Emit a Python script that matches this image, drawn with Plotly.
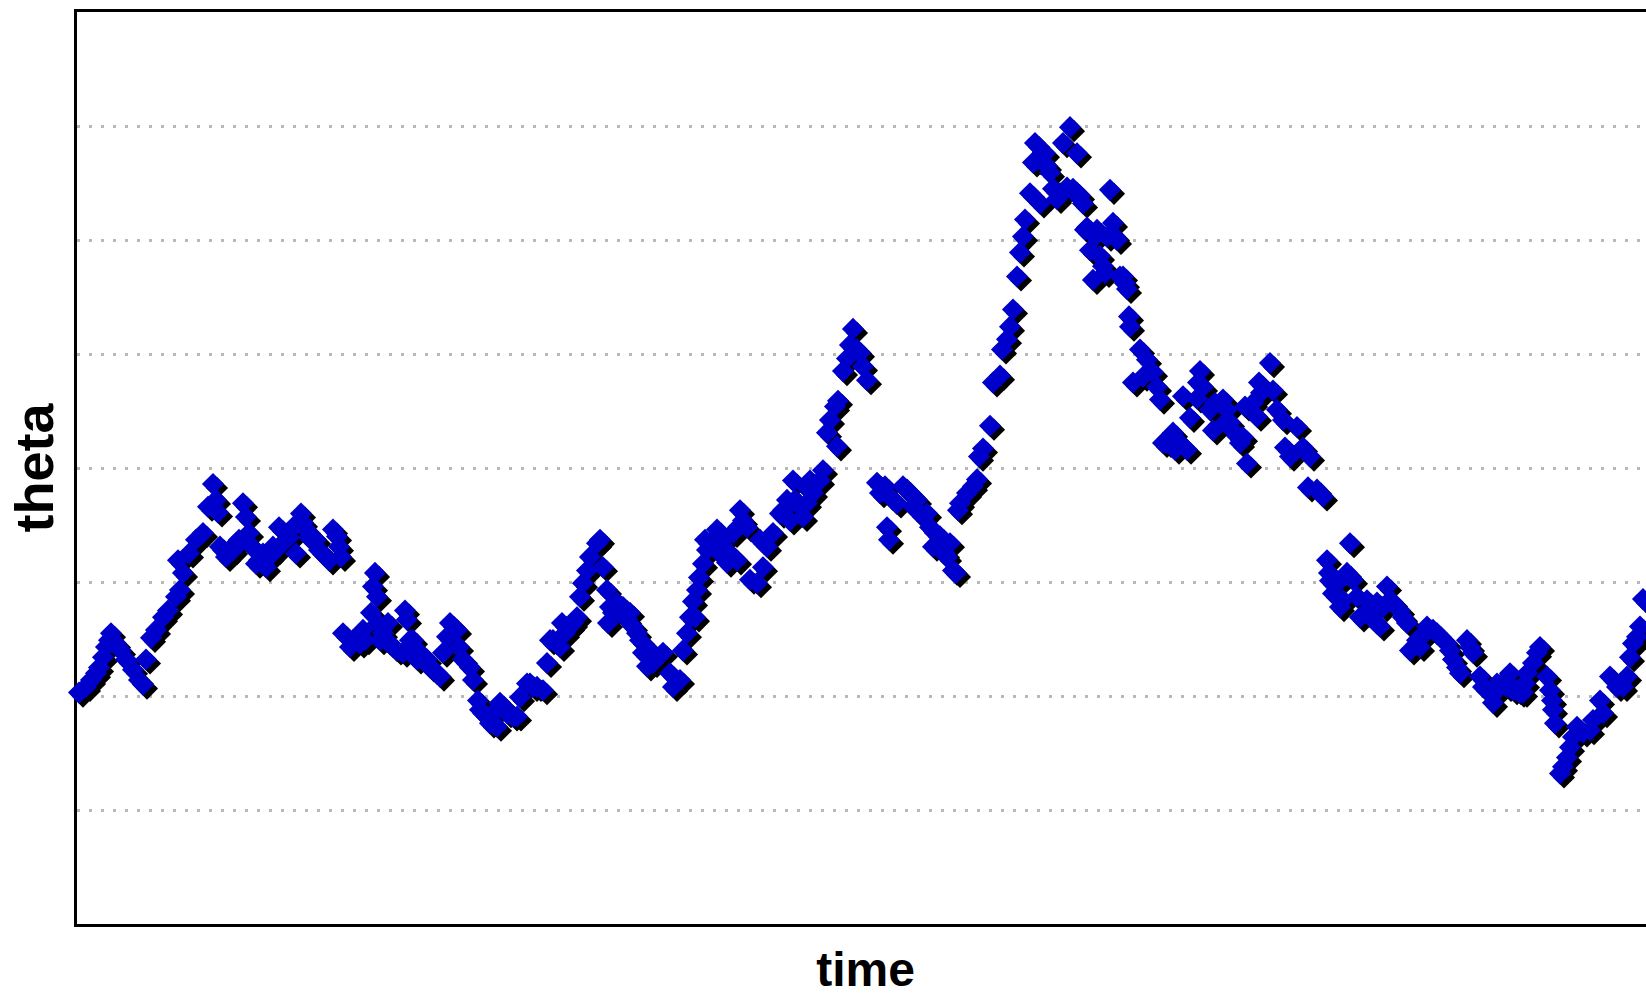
import plotly.graph_objects as go

# ---- data (time step, theta): main path ----
time = [2, 9, 14, 19, 22, 26, 29, 32, 34, 39, 44, 49, 56, 62, 66, 69, 74, 79, 86, 91,
        99, 101, 103, 106, 112, 119, 126, 131, 136, 139, 141, 146, 152, 159, 166, 169, 172, 179, 186, 196,
        202, 209, 219, 224, 229, 239, 249, 256, 260, 262, 264, 266, 276, 283, 286, 294, 296, 298, 300, 301,
        306, 311, 316, 326, 328, 330, 336, 343, 350, 356, 363, 366, 370, 373, 380, 382, 386, 393, 396, 401,
        406, 413, 420, 423, 430, 440, 443, 450, 456, 466, 470, 476, 483, 485, 493, 500, 503, 506, 510, 513,
        520, 523, 526, 530, 531, 533, 540, 546, 553, 556, 563, 566, 570, 573, 576, 586, 593, 596, 603, 606,
        610, 613, 616, 618, 620, 622, 626, 630, 636, 640, 646, 653, 660, 661, 663, 670, 673, 680, 683, 686,
        690, 696, 703, 710, 713, 716, 720, 726, 730, 736, 743, 746, 750, 753, 758, 760, 761, 766, 770, 773,
        776, 780, 783, 786, 790, 800, 803, 810, 812, 820, 826, 833, 840, 846, 853, 856, 863, 870, 873, 876,
        879, 881, 883, 890, 896, 900, 902, 906, 913, 916, 923, 925, 930, 933, 936, 940, 943, 946, 948, 953,
        956, 958, 963, 966, 970, 976, 980, 986, 993, 996, 1000, 1003, 1010, 1013, 1016, 1020, 1023, 1026, 1033, 1036,
        1040, 1046, 1050, 1052, 1053, 1056, 1063, 1066, 1070, 1076, 1080, 1083, 1086, 1096, 1103, 1110, 1113, 1120, 1123, 1126,
        1133, 1136, 1143, 1150, 1153, 1160, 1166, 1168, 1170, 1176, 1180, 1182, 1184, 1193, 1196, 1200, 1206, 1208, 1213, 1220,
        1226, 1231, 1233, 1240, 1246, 1250, 1253, 1256, 1263, 1270, 1273, 1276, 1280, 1283, 1290, 1296, 1303, 1306, 1310, 1316,
        1323, 1330, 1333, 1343, 1350, 1356, 1363, 1370, 1376, 1383, 1390, 1396, 1403, 1410, 1416, 1420, 1430, 1433, 1436, 1440,
        1443, 1446, 1450, 1456, 1460, 1463, 1470, 1473, 1475, 1476, 1478, 1483, 1486, 1490, 1493, 1496, 1500, 1506, 1513, 1516,
        1523, 1526, 1533, 1540, 1546, 1550, 1553, 1556, 1560, 1563, 1566, 1570]

theta = [0.03, 0.08, 0.14, 0.20, 0.25, 0.34, 0.43, 0.49, 0.55, 0.46, 0.40, 0.32, 0.23, 0.14, 0.10, 0.32, 0.51, 0.58, 0.69, 0.75,
         0.87, 1.19, 0.93, 1.08, 1.25, 1.37, 1.43, 1.66, 1.86, 1.72, 1.61, 1.28, 1.25, 1.34, 1.69, 1.57, 1.43, 1.16, 1.25, 1.31,
         1.48, 1.37, 1.25, 1.60, 1.46, 1.37, 1.22, 1.46, 1.40, 1.31, 1.22, 0.55, 0.49, 0.46, 0.58, 0.73, 0.96, 1.08, 0.87, 0.64,
         0.55, 0.64, 0.43, 0.38, 0.75, 0.67, 0.49, 0.38, 0.32, 0.23, 0.17, 0.38, 0.52, 0.64, 0.58, 0.43, 0.32, 0.25, 0.14, -0.04,
         -0.15, -0.24, -0.27, -0.06, -0.15, -0.18, -0.01, 0.11, 0.08, 0.05, 0.29, 0.49, 0.43, 0.64, 0.61, 0.69, 0.87, 0.99, 1.10, 1.22,
         1.34, 1.37, 1.13, 0.93, 0.64, 0.78, 0.82, 0.78, 0.73, 0.61, 0.49, 0.38, 0.26, 0.40, 0.29, 0.38, 0.20, 0.08, 0.14, 0.40,
         0.55, 0.69, 0.83, 0.69, 0.93, 1.04, 1.16, 1.28, 1.37, 1.46, 1.37, 1.25, 1.19, 1.48, 1.63, 1.48, 1.02, 0.99, 1.37, 1.13,
         1.31, 1.43, 1.60, 1.72, 1.54, 1.89, 1.69, 1.57, 1.69, 1.78, 1.89, 1.98, 2.31, 2.42, 2.54, 2.19, 2.59, 2.85, 2.96, 3.08,
         3.22, 3.04, 3.01, 2.89, 2.77, 1.87, 1.78, 1.48, 1.37, 1.69, 1.84, 1.78, 1.72, 1.57, 1.48, 1.31, 1.40, 1.22, 1.34, 1.10,
         1.08, 1.63, 1.69, 1.78, 1.84, 1.90, 2.10, 2.17, 2.37, 2.75, 2.81, 3.04, 3.13, 3.24, 3.39, 3.68, 3.89, 4.03, 4.18, 4.41,
         4.68, 4.85, 4.32, 4.77, 4.65, 4.45, 4.36, 4.85, 4.99, 4.45, 4.76, 4.39, 4.11, 3.91, 3.65, 4.09, 3.86, 3.77, 4.44, 4.15,
         4.00, 3.68, 3.57, 3.33, 3.24, 2.75, 3.04, 2.80, 2.95, 2.84, 2.71, 2.60, 2.22, 2.31, 2.22, 2.16, 2.44, 2.61, 2.85, 2.71,
         2.51, 2.33, 2.57, 2.51, 2.40, 2.28, 2.27, 2.54, 2.04, 2.57, 2.45, 2.75, 2.66, 2.92, 2.68, 2.51, 2.42, 2.18, 2.10, 2.36,
         2.18, 1.83, 2.10, 1.81, 1.75, 1.19, 1.01, 0.90, 0.78, 1.08, 1.34, 1.02, 0.87, 0.69, 0.84, 0.67, 0.61, 0.78, 0.96, 0.82,
         0.75, 0.64, 0.40, 0.43, 0.61, 0.58, 0.52, 0.46, 0.32, 0.20, 0.49, 0.38, 0.17, 0.05, -0.06, 0.11, 0.08, 0.20, 0.05, 0.05,
         0.03, 0.03, 0.20, 0.29, 0.38, 0.43, 0.17, 0.05, -0.04, -0.12, -0.24, -0.68, -0.62, -0.54, -0.45, -0.36, -0.27, -0.32, -0.30, -0.21,
         -0.04, -0.15, 0.17, 0.08, 0.08, 0.17, 0.34, 0.46, 0.52, 0.61, 0.85, 0.82]

# ---- further points read inside the dense clusters ----
time_extra = [143, 149, 156, 162, 175, 182, 189, 192, 199, 212, 216, 226, 232, 242, 252,
              273, 288, 303, 309, 320, 333, 340, 353, 360,
              403, 410, 416, 426, 433, 436, 453, 460, 473, 488, 496, 536, 543, 550, 560,
              628, 643, 650, 656, 666, 706, 718, 728, 733,
              808, 816, 830, 836, 850, 858, 866, 868,
              960, 968, 973, 983, 990, 998, 1006, 1008, 1018, 1028, 1030, 1038, 1043, 1048,
              1090, 1098, 1106, 1121, 1138, 1146, 1148, 1156, 1163,
              1252, 1260, 1266, 1288, 1300, 1313, 1326, 1340, 1348, 1360, 1373, 1380, 1393, 1406, 1418, 1428, 1448]

theta_extra = [1.31, 1.22, 1.28, 1.37, 1.31, 1.19, 1.13, 1.22, 1.28, 1.39, 1.48, 1.52, 1.39, 1.28, 1.19,
               0.43, 0.49, 0.49, 0.49, 0.40, 0.49, 0.32, 0.25, 0.20,
               -0.12, -0.18, -0.15, -0.10, -0.15, -0.18, 0.11, 0.08, 0.49, 0.55, 0.64, 0.73, 0.75, 0.67, 0.55,
               1.37, 1.25, 1.17, 1.43, 1.54, 1.63, 1.72, 1.84, 1.89,
               1.84, 1.72, 1.81, 1.66, 1.60, 1.43, 1.37, 1.25,
               4.70, 4.76, 4.59, 4.41, 4.46, 4.41, 4.32, 4.09, 4.03, 3.71, 4.03, 4.03, 3.68, 3.62,
               2.22, 2.16, 2.63, 2.75, 2.57, 2.60, 2.40, 2.33, 2.22,
               1.08, 0.99, 0.84, 0.73, 0.82, 0.84, 0.69, 0.49, 0.55, 0.55, 0.40, 0.25, 0.43, 0.08, 0.03, 0.14, 0.11]

pts = sorted(zip(time + time_extra, theta + theta_extra))
t_all = [p[0] for p in pts]
th_all = [p[1] for p in pts]

# ---- layout constants ----
W, H = 1654, 996           # plot runs slightly past the right edge of the window
ML, MR, MT, MB = 77, 0, 12, 72
PW, PH = W - ML - MR, H - MT - MB
X_RANGE = [0, PW]          # 1 time step per pixel
Y_RANGE = [-2, 6]
PX_PER_Y = PH / (Y_RANGE[1] - Y_RANGE[0])
SH = 4                     # shadow offset in px
MSIZE = 17

fig = go.Figure()

# main axes hold grid, frame and titles (trace kept invisible so the subplot exists)
fig.add_trace(go.Scatter(x=t_all, y=th_all, mode="none", hoverinfo="skip", showlegend=False))

# shadow (black) drawn on shifted invisible axes
fig.add_trace(go.Scatter(
    x=t_all, y=th_all, mode="markers", xaxis="x2", yaxis="y2",
    marker=dict(symbol="diamond", size=MSIZE, color="black", line=dict(width=0)),
    cliponaxis=False, hoverinfo="skip", showlegend=False))

# main blue markers
fig.add_trace(go.Scatter(
    x=t_all, y=th_all, mode="markers", xaxis="x3", yaxis="y3",
    marker=dict(symbol="diamond", size=MSIZE, color="#0000CC", line=dict(width=0)),
    cliponaxis=False, showlegend=False))

title_font = dict(family="Liberation Sans, Arial, sans-serif", size=52, color="black", weight="bold")

fig.update_layout(
    width=W, height=H,
    margin=dict(l=ML, r=MR, t=MT, b=MB, pad=0),
    paper_bgcolor="white", plot_bgcolor="rgba(0,0,0,0)",
    showlegend=False, hovermode=False,
    xaxis=dict(domain=[0, 1], range=X_RANGE, showgrid=False, zeroline=False,
               showline=True, linecolor="black", linewidth=2.5, mirror=True,
               showticklabels=False, ticks="",
               title=dict(text="time", font=dict(title_font, size=48), standoff=30)),
    yaxis=dict(domain=[0, 1], range=Y_RANGE, tick0=0, dtick=1,
               showgrid=True, gridcolor="#B8B8B8", gridwidth=2.5, griddash="3px,9px",
               zeroline=False, showline=True, linecolor="black", linewidth=2.5, mirror=False,
               showticklabels=False, ticks="",
               title=dict(text="theta", font=dict(title_font, size=54), standoff=4)),
    xaxis2=dict(domain=[SH / PW, 1], range=[0, PW - SH], anchor="y2", visible=False),
    yaxis2=dict(domain=[0, 1 - SH / PH], range=[Y_RANGE[0] + SH / PX_PER_Y, Y_RANGE[1]],
                anchor="x2", visible=False),
    xaxis3=dict(domain=[0, 1], range=X_RANGE, anchor="y3", visible=False),
    yaxis3=dict(domain=[0, 1], range=Y_RANGE, anchor="x3", visible=False),
)

fig.write_html(
    "out.html",
    config={"displayModeBar": False},
    post_script="document.body.style.margin='0';document.body.style.overflow='hidden';",
)
